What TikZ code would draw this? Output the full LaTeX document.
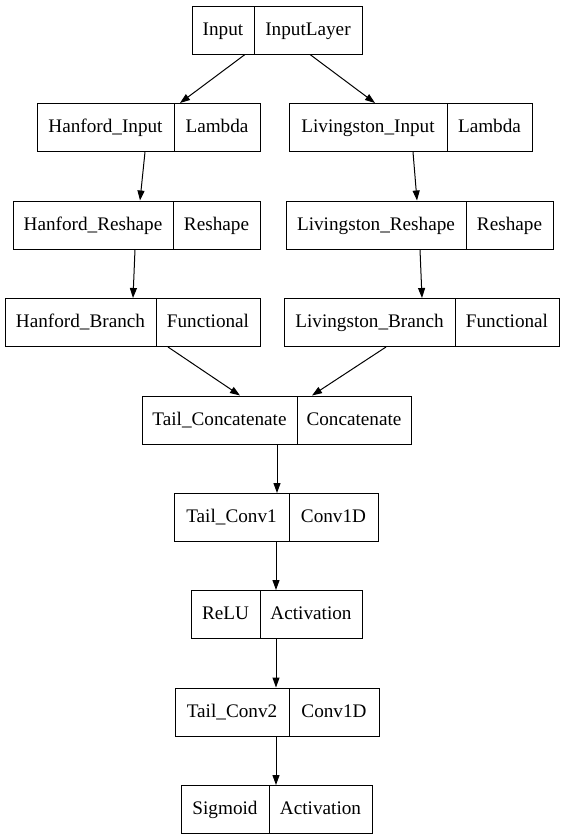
\documentclass[tikz,border=0pt]{standalone}
\usepackage{fontspec}
\setmainfont{Liberation Serif}
\usetikzlibrary{arrows.meta,calc}
\newcommand{\kbox}[7]{%
  \node[boxframe, minimum width={(#3-#2)*1pt}, anchor=north west] (#1) at (#2,#5) {};
  \node[celltext] (#1-l) at ({(#2+#4)/2},{#5+29.8}) {#6};
  \node[celltext] (#1-r) at ({(#4+#3)/2},{#5+29.8}) {#7};
  \coordinate (#1-d) at (#4,0);
  \draw[divider] (#1.north -| #1-d) -- (#1.south -| #1-d);
}
\begin{document}
\begin{tikzpicture}[x=1pt,y=-1pt,
  boxframe/.style={draw=black, line width=1pt, minimum height=48pt, inner sep=0pt, fill=white},
  celltext/.style={inner sep=0pt, anchor=base, font=\fontsize{19.2}{22}\selectfont},
  divider/.style={draw=black, line width=1pt, shorten >=0.5pt, shorten <=0.5pt},
  edge/.style={draw=black, line width=1pt, -{Triangle[length=10pt,width=7pt]}}]
\useasboundingbox[fill=white] (0,0) rectangle (565,839);
\kbox{in}{192}{362}{254}{5.5}{Input}{InputLayer}
\kbox{hi}{37}{260}{174}{103}{Hanford\_Input}{Lambda}
\kbox{li}{289}{532}{447}{103}{Livingston\_Input}{Lambda}
\kbox{hr}{13}{260}{173}{200.5}{Hanford\_Reshape}{Reshape}
\kbox{lr}{286}{553}{466}{200.5}{Livingston\_Reshape}{Reshape}
\kbox{hb}{5}{260}{156}{298}{Hanford\_Branch}{Functional}
\kbox{lb}{284}{559}{455}{298}{Livingston\_Branch}{Functional}
\kbox{tc}{142}{411}{297}{395.5}{Tail\_Concatenate}{Concatenate}
\kbox{ca}{174}{378}{289}{493}{Tail\_Conv1}{Conv1D}
\kbox{re}{191}{362}{260}{590}{ReLU}{Activation}
\kbox{cb}{175}{379}{289}{687.5}{Tail\_Conv2}{Conv1D}
\kbox{sg}{181}{372}{269}{785}{Sigmoid}{Activation}
\draw[edge] ($(in.south west)+(53,0)$) -- ($(hi.north west)+(143,0)$);
\draw[edge] ($(in.south west)+(118,0)$) -- ($(li.north west)+(86,0)$);
\draw[edge] ($(hi.south west)+(108,0)$) -- ($(hr.north west)+(127,0)$);
\draw[edge] ($(li.south west)+(124,0)$) -- ($(lr.north west)+(131,0)$);
\draw[edge] ($(hr.south west)+(122,0)$) -- ($(hb.north west)+(128,0)$);
\draw[edge] ($(lr.south west)+(134,0)$) -- ($(lb.north west)+(138,0)$);
\draw[edge] ($(hb.south west)+(163,0)$) -- ($(tc.north west)+(98,0)$);
\draw[edge] ($(lb.south west)+(102,0)$) -- ($(tc.north west)+(170,0)$);
\draw[edge] ($(tc.south west)+(135,0)$) -- ($(ca.north west)+(103,0)$);
\draw[edge] ($(ca.south west)+(102,0)$) -- ($(re.north west)+(85,0)$);
\draw[edge] ($(re.south west)+(85,0)$) -- ($(cb.north west)+(101,0)$);
\draw[edge] ($(cb.south west)+(101,0)$) -- ($(sg.north west)+(95,0)$);
\end{tikzpicture}
\end{document}
